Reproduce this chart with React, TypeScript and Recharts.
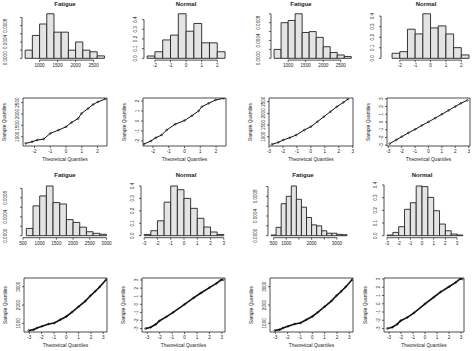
import React from 'react';
import { ComposedChart, XAxis, YAxis, ReferenceArea, ReferenceLine, Line, Scatter } from 'recharts';

const FONT = '"Liberation Sans", Arial, sans-serif';
const INK = '#222';
const BAR_FILL = '#e4e4e4';

// ---------- Row 1 histograms ----------
const h1Breaks = [600, 800, 1000, 1200, 1400, 1600, 1800, 2000, 2200, 2400, 2600, 2800];
const h1Density = [0.0002, 0.00056, 0.00084, 0.00109, 0.00064, 0.00064, 0.0002, 0.0004, 0.0002, 0.00016, 0.00006];
const h2Breaks = [-2.5, -2, -1.5, -1, -0.5, 0, 0.5, 1, 1.5, 2, 2.5];
const h2Density = [0.024, 0.068, 0.19, 0.24, 0.46, 0.28, 0.36, 0.16, 0.16, 0.068];
const h3Breaks = [600, 800, 1000, 1200, 1400, 1600, 1800, 2000, 2200, 2400, 2600, 2800];
const h3Density = [0.0002, 0.0008, 0.00085, 0.001, 0.00058, 0.0006, 0.00047, 0.00026, 0.00013, 0.000075, 0.00004];
const h4Breaks = [-3, -2.5, -2, -1.5, -1, -0.5, 0, 0.5, 1, 1.5, 2, 2.5];
const h4Density = [0, 0.048, 0.063, 0.276, 0.231, 0.422, 0.288, 0.307, 0.231, 0.101, 0.032];

// ---------- Row 3 histograms ----------
const h9Breaks = [600, 800, 1000, 1200, 1400, 1600, 1800, 2000, 2200, 2400, 2600, 2800, 3000];
const h9Density = [0.000154, 0.00063, 0.00084, 0.00105, 0.0007, 0.00067, 0.00034, 0.00028, 0.00018, 0.000084, 0.00005, 0.00003];
const h10Breaks = [-3, -2.5, -2, -1.5, -1, -0.5, 0, 0.5, 1, 1.5, 2, 2.5, 3];
const h10Density = [0.01, 0.04, 0.12, 0.27, 0.4, 0.37, 0.3, 0.22, 0.14, 0.07, 0.03, 0.01];
const h11Breaks = [400, 600, 800, 1000, 1200, 1400, 1600, 1800, 2000, 2200, 2400, 2600, 2800, 3000, 3200, 3400];
const h11Density = [0.000014, 0.00017, 0.00065, 0.0008, 0.00101, 0.00074, 0.00058, 0.00037, 0.00022, 0.0002, 0.0001, 0.00005, 0.00005, 0.000027, 0.00002];
const h12Breaks = [-3, -2.5, -2, -1.5, -1, -0.5, 0, 0.5, 1, 1.5, 2, 2.5, 3, 3.5];
const h12Density = [0.0053, 0.026, 0.071, 0.208, 0.26, 0.392, 0.387, 0.302, 0.197, 0.092, 0.039, 0.013, 0.0053];

// ---------- Tick values / labels ----------
const fatigueTicksA = [1000, 1500, 2000, 2500];
const fatigueLabelsA = ['1000', '1500', '2000', '2500'];
const fatigueTicksB = [500, 1000, 1500, 2000, 2500, 3000];
const fatigueLabelsB = ['500', '1000', '1500', '2000', '2500', '3000'];
const fatigueLabelsC = ['500', '1000', '', '2000', '', '3000'];
const normTicks5 = [-2, -1, 0, 1, 2];
const normLabels5 = ['-2', '-1', '0', '1', '2'];
const normTicks7 = [-3, -2, -1, 0, 1, 2, 3];
const normLabels7 = ['-3', '-2', '-1', '0', '1', '2', '3'];
const densTicksF = [0, 0.0002, 0.0004, 0.0006, 0.0008, 0.001];
const densLabelsF = ['0.0000', '', '0.0004', '', '0.0008', ''];
const densTicksN = [0, 0.1, 0.2, 0.3, 0.4];
const densLabelsN = ['0.0', '0.1', '0.2', '0.3', '0.4'];
const sampTicksF = [1000, 1500, 2000, 2500];
const sampLabelsF = ['1000', '1500', '2000', '2500'];
const sampTicksF2 = [1000, 2000, 3000];
const sampLabelsF2 = ['1000', '2000', '3000'];

// ---------- QQ plots (theoretical, sample) ----------
const q5Theo = [-2.56, -2.15, -1.83, -1.42, -1.0, -0.48, 0, 0.35, 0.77, 0.98, 1.4, 1.71, 2.02, 2.5];
const q5Samp = [709, 782, 855, 899, 1146, 1291, 1437, 1626, 1800, 2019, 2238, 2412, 2529, 2660];
const q6Theo = [-2.57, -2.13, -1.81, -1.45, -1.13, -0.6, 0, 0.47, 0.89, 1.1, 1.53, 1.96, 2.49];
const q6Samp = [-2.3, -2.0, -1.67, -1.4, -0.9, -0.33, 0.05, 0.53, 1.0, 1.43, 1.77, 2.1, 2.27];
const q7Theo = [-2.79, -2.33, -1.98, -1.51, -1.05, -0.47, 0, 0.47, 0.93, 1.4, 1.86, 2.33, 2.67];
const q7Samp = [671, 757, 857, 957, 1071, 1286, 1429, 1643, 1857, 2071, 2286, 2471, 2614];
const q8Theo = [-2.9, -2.4, -2, -1.5, -1, -0.5, 0, 0.5, 1, 1.5, 2, 2.4, 2.9];
const q8Samp = [-2.8, -2.3, -1.9, -1.4, -0.95, -0.45, 0.02, 0.5, 1.0, 1.5, 2.0, 2.4, 2.8];
const q13Theo = [-3.05, -2.65, -2.38, -1.97, -1.43, -0.97, -0.49, 0, 0.46, 1.0, 1.54, 1.95, 2.35, 2.7, 3.24];
const q13Samp = [604, 657, 747, 836, 962, 1016, 1195, 1374, 1606, 1910, 2215, 2501, 2752, 2985, 3396];
const q14Theo = [-3.14, -2.72, -2.31, -2.03, -1.47, -0.92, 0, 0.75, 1.31, 2.0, 2.56, 2.92, 3.11];
const q14Samp = [-3.0, -2.84, -2.47, -2.06, -1.55, -1.0, 0, 0.82, 1.4, 2.06, 2.59, 3.0, 3.05];
const q15Theo = [-3.05, -2.65, -2.38, -1.97, -1.43, -0.97, -0.49, 0, 0.46, 1.0, 1.54, 1.95, 2.35, 2.7, 3.24];
const q15Samp = [604, 657, 747, 836, 962, 1016, 1195, 1374, 1606, 1910, 2215, 2501, 2752, 2985, 3396];
const q16Theo = [-3.14, -2.72, -2.31, -2.03, -1.47, -0.92, 0, 0.75, 1.31, 2.0, 2.56, 2.92, 3.11];
const q16Samp = [-3.0, -2.84, -2.47, -2.06, -1.65, -1.11, 0, 0.82, 1.44, 2.06, 2.59, 3.0, 3.0];

type Box = { x0: number; x1: number; y0: number; y1: number };

const makeXTick = (ticks: number[], labels: string[]) => (props: any) => {
  const { x, y, payload } = props;
  const i = ticks.findIndex((t) => Math.abs(t - payload.value) < 1e-9);
  const lab = i >= 0 ? labels[i] : '';
  return (
    <text x={x} y={y + 4.2} textAnchor="middle" fontSize={4.6} fill={INK} fontFamily={FONT}>
      {lab}
    </text>
  );
};

const makeYTick = (ticks: number[], labels: string[], off: number) => (props: any) => {
  const { x, y, payload } = props;
  const i = ticks.findIndex((t) => Math.abs(t - payload.value) < 1e-12);
  const lab = i >= 0 ? labels[i] : '';
  const tx = x - off;
  return (
    <text x={tx} y={y} transform={`rotate(-90 ${tx} ${y})`} textAnchor="middle" fontSize={4.6} fill={INK} fontFamily={FONT}>
      {lab}
    </text>
  );
};

const ML = 30;
const MR = 6;
const MT = 8;
const MB = 14;

function Hist(p: {
  box: Box;
  breaks: number[];
  density: number[];
  xDomain: [number, number];
  xTicks: number[];
  xLabels: string[];
  yTicks: number[];
  yLabels: string[];
  yOff: number;
}) {
  const { box } = p;
  const w = box.x1 - box.x0 + ML + MR;
  const h = box.y1 - box.y0 + MT + MB;
  const maxD = Math.max(...p.density);
  const yDomain: [number, number] = [-0.04 * maxD, 1.04 * maxD];
  const yTicks = p.yTicks.filter((t) => t <= yDomain[1]);
  const data = p.density.map((d, i) => ({ x: (p.breaks[i] + p.breaks[i + 1]) / 2, d }));
  return (
    <div style={{ position: 'absolute', left: box.x0 - ML, top: box.y0 - MT }}>
      <ComposedChart width={w} height={h} data={data} margin={{ top: MT, right: MR, bottom: 0, left: 0 }}>
        <XAxis
          type="number"
          dataKey="x"
          domain={p.xDomain}
          ticks={p.xTicks}
          allowDataOverflow
          axisLine={false}
          tickLine={{ stroke: INK, strokeWidth: 0.7 }}
          tickSize={2}
          tickMargin={1}
          height={MB}
          interval={0}
          tick={makeXTick(p.xTicks, p.xLabels)}
        />
        <YAxis
          type="number"
          domain={yDomain}
          ticks={yTicks}
          allowDataOverflow
          axisLine={false}
          tickLine={{ stroke: INK, strokeWidth: 0.7 }}
          tickSize={2}
          tickMargin={1}
          width={ML}
          interval={0}
          tick={makeYTick(p.yTicks, p.yLabels, p.yOff)}
        />
        {p.density.map((d, i) => (
          <ReferenceArea
            key={i}
            x1={p.breaks[i]}
            x2={p.breaks[i + 1]}
            y1={0}
            y2={d}
            fill={BAR_FILL}
            fillOpacity={1}
            stroke={INK}
            strokeWidth={0.9}
            ifOverflow="visible"
          />
        ))}
        <ReferenceLine
          segment={[
            { x: p.xTicks[0], y: yDomain[0] },
            { x: p.xTicks[p.xTicks.length - 1], y: yDomain[0] },
          ]}
          stroke={INK}
          strokeWidth={0.8}
          ifOverflow="visible"
        />
        <ReferenceLine
          segment={[
            { x: p.xDomain[0], y: 0 },
            { x: p.xDomain[0], y: yTicks[yTicks.length - 1] },
          ]}
          stroke={INK}
          strokeWidth={0.8}
          ifOverflow="visible"
        />
        <Line dataKey="d" stroke="none" dot={false} isAnimationActive={false} legendType="none" />
      </ComposedChart>
    </div>
  );
}

function QQ(p: {
  box: Box;
  theo: number[];
  samp: number[];
  xDomain: [number, number];
  yDomain: [number, number];
  xTicks: number[];
  xLabels: string[];
  yTicks: number[];
  yLabels: string[];
  lineW: number;
}) {
  const { box } = p;
  const w = box.x1 - box.x0 + ML + MR;
  const h = box.y1 - box.y0 + MT + MB;
  const data = p.theo.map((t, i) => ({ x: t, y: p.samp[i] }));
  return (
    <div style={{ position: 'absolute', left: box.x0 - ML, top: box.y0 - MT }}>
      <ComposedChart width={w} height={h} data={data} margin={{ top: MT, right: MR, bottom: 0, left: 0 }}>
        <XAxis
          type="number"
          dataKey="x"
          domain={p.xDomain}
          ticks={p.xTicks}
          allowDataOverflow
          axisLine={false}
          tickLine={{ stroke: INK, strokeWidth: 0.7 }}
          tickSize={2}
          tickMargin={1}
          height={MB}
          interval={0}
          tick={makeXTick(p.xTicks, p.xLabels)}
        />
        <YAxis
          type="number"
          domain={p.yDomain}
          ticks={p.yTicks}
          allowDataOverflow
          axisLine={false}
          tickLine={{ stroke: INK, strokeWidth: 0.7 }}
          tickSize={2}
          tickMargin={1}
          width={ML}
          interval={0}
          tick={makeYTick(p.yTicks, p.yLabels, 1)}
        />
        <ReferenceArea
          x1={p.xDomain[0]}
          x2={p.xDomain[1]}
          y1={p.yDomain[0]}
          y2={p.yDomain[1]}
          fill="none"
          stroke={INK}
          strokeWidth={0.8}
          ifOverflow="visible"
        />
        <Line dataKey="y" stroke="#111" strokeWidth={p.lineW} dot={false} isAnimationActive={false} legendType="none" />
        <Scatter
          dataKey="y"
          isAnimationActive={false}
          shape={(s: any) => <circle cx={s.cx} cy={s.cy} r={0.9} fill="none" stroke="#111" strokeWidth={0.6} />}
        />
      </ComposedChart>
    </div>
  );
}

const Title = ({ x, y, text }: { x: number; y: number; text: string }) => (
  <div
    style={{
      position: 'absolute',
      left: x - 40,
      top: y - 4,
      width: 80,
      textAlign: 'center',
      fontFamily: FONT,
      fontWeight: 'bold',
      fontSize: 6,
      lineHeight: '8px',
      color: INK,
    }}
  >
    {text}
  </div>
);

const XLab = ({ x, y, text }: { x: number; y: number; text: string }) => (
  <div
    style={{
      position: 'absolute',
      left: x - 40,
      top: y - 3,
      width: 80,
      textAlign: 'center',
      fontFamily: FONT,
      fontSize: 4.8,
      lineHeight: '6px',
      color: INK,
    }}
  >
    {text}
  </div>
);

const YLab = ({ x, y, text }: { x: number; y: number; text: string }) => (
  <div
    style={{
      position: 'absolute',
      left: x - 40,
      top: y - 3,
      width: 80,
      textAlign: 'center',
      fontFamily: FONT,
      fontSize: 4.8,
      lineHeight: '6px',
      color: INK,
      transform: 'rotate(-90deg)',
    }}
  >
    {text}
  </div>
);

const r1 = { y0: 12, y1: 60.1 };
const r3 = { y0: 184, y1: 237.7 };
const r2 = { y0: 98, y1: 146 };
const r4 = { y0: 278, y1: 332 };

export default function App() {
  const qqBoxes: Box[] = [
    { x0: 23, x1: 107, ...r2 },
    { x0: 143, x1: 226, ...r2 },
    { x0: 269, x1: 353, ...r2 },
    { x0: 387, x1: 470, ...r2 },
    { x0: 24, x1: 107, ...r4 },
    { x0: 142, x1: 225, ...r4 },
    { x0: 270, x1: 353, ...r4 },
    { x0: 384, x1: 464, ...r4 },
  ];
  return (
    <div style={{ position: 'fixed', left: 0, top: 0, width: 474, height: 351, background: '#fff', overflow: 'hidden' }}>
      {/* Row 1 */}
      <Hist box={{ x0: 22.4, x1: 108, ...r1 }} breaks={h1Breaks} density={h1Density} xDomain={[512, 2888]} xTicks={fatigueTicksA} xLabels={fatigueLabelsA} yTicks={densTicksF} yLabels={densLabelsF} yOff={12} />
      <Hist box={{ x0: 143.8, x1: 228, ...r1 }} breaks={h2Breaks} density={h2Density} xDomain={[-2.7, 2.7]} xTicks={normTicks5} xLabels={normLabels5} yTicks={densTicksN} yLabels={densLabelsN} yOff={4} />
      <Hist box={{ x0: 270.5, x1: 353.9, ...r1 }} breaks={h3Breaks} density={h3Density} xDomain={[512, 2888]} xTicks={fatigueTicksA} xLabels={fatigueLabelsA} yTicks={densTicksF} yLabels={densLabelsF} yOff={8} />
      <Hist box={{ x0: 381, x1: 472.4, ...r1 }} breaks={h4Breaks} density={h4Density} xDomain={[-3.22, 2.72]} xTicks={normTicks5} xLabels={normLabels5} yTicks={densTicksN} yLabels={densLabelsN} yOff={4} />
      <Title x={65} y={4} text="Fatigue" />
      <Title x={186} y={4} text="Normal" />
      <Title x={301} y={4} text="Fatigue" />
      <Title x={426} y={4} text="Normal" />

      {/* Row 2 */}
      <QQ box={qqBoxes[0]} theo={q5Theo} samp={q5Samp} xDomain={[-2.73, 2.6]} yDomain={[595, 2700]} xTicks={normTicks5} xLabels={normLabels5} yTicks={sampTicksF} yLabels={sampLabelsF} lineW={1} />
      <QQ box={qqBoxes[1]} theo={q6Theo} samp={q6Samp} xDomain={[-2.63, 2.63]} yDomain={[-2.5, 2.3]} xTicks={normTicks5} xLabels={normLabels5} yTicks={normTicks5} yLabels={normLabels5} lineW={1} />
      <QQ box={qqBoxes[2]} theo={q7Theo} samp={q7Samp} xDomain={[-3.0, 3.02]} yDomain={[601, 2659]} xTicks={normTicks7} xLabels={normLabels7} yTicks={sampTicksF} yLabels={sampLabelsF} lineW={1} />
      <QQ box={qqBoxes[3]} theo={q8Theo} samp={q8Samp} xDomain={[-3.1, 3.1]} yDomain={[-3.1, 3.1]} xTicks={normTicks7} xLabels={normLabels7} yTicks={normTicks7} yLabels={normLabels7} lineW={1} />

      {/* Row 3 */}
      <Hist box={{ x0: 22.3, x1: 110.1, ...r3 }} breaks={h9Breaks} density={h9Density} xDomain={[470, 3100]} xTicks={fatigueTicksB} xLabels={fatigueLabelsB} yTicks={densTicksF} yLabels={densLabelsF} yOff={12} />
      <Hist box={{ x0: 141, x1: 227, ...r3 }} breaks={h10Breaks} density={h10Density} xDomain={[-3.24, 3.24]} xTicks={normTicks7} xLabels={normLabels7} yTicks={densTicksN} yLabels={densLabelsN} yOff={4} />
      <Hist box={{ x0: 267.5, x1: 349.6, ...r3 }} breaks={h11Breaks} density={h11Density} xDomain={[280, 3520]} xTicks={fatigueTicksB} xLabels={fatigueLabelsC} yTicks={densTicksF} yLabels={densLabelsF} yOff={8} />
      <Hist box={{ x0: 384.3, x1: 466.2, ...r3 }} breaks={h12Breaks} density={h12Density} xDomain={[-3.26, 3.76]} xTicks={normTicks7} xLabels={normLabels7} yTicks={densTicksN} yLabels={densLabelsN} yOff={4} />
      <Title x={65} y={175} text="Fatigue" />
      <Title x={186} y={175} text="Normal" />
      <Title x={303} y={175} text="Fatigue" />
      <Title x={422} y={175} text="Normal" />

      {/* Row 4 */}
      <QQ box={qqBoxes[4]} theo={q13Theo} samp={q13Samp} xDomain={[-3.43, 3.3]} yDomain={[527, 3473]} xTicks={normTicks7} xLabels={normLabels7} yTicks={sampTicksF2} yLabels={sampLabelsF2} lineW={1.6} />
      <QQ box={qqBoxes[5]} theo={q14Theo} samp={q14Samp} xDomain={[-3.42, 3.25]} yDomain={[-3.42, 3.25]} xTicks={normTicks7} xLabels={normLabels7} yTicks={normTicks7} yLabels={normLabels7} lineW={1.6} />
      <QQ box={qqBoxes[6]} theo={q15Theo} samp={q15Samp} xDomain={[-3.43, 3.3]} yDomain={[527, 3473]} xTicks={normTicks7} xLabels={normLabels7} yTicks={sampTicksF2} yLabels={sampLabelsF2} lineW={1.6} />
      <QQ box={qqBoxes[7]} theo={q16Theo} samp={q16Samp} xDomain={[-3.42, 3.25]} yDomain={[-3.42, 3.12]} xTicks={normTicks7} xLabels={normLabels7} yTicks={normTicks7} yLabels={normLabels7} lineW={1.6} />

      {qqBoxes.map((b, i) => (
        <React.Fragment key={i}>
          <XLab x={(b.x0 + b.x1) / 2} y={b.y1 + 14} text="Theoretical Quantiles" />
          <YLab x={b.x0 - 18} y={(b.y0 + b.y1) / 2} text="Sample Quantiles" />
        </React.Fragment>
      ))}
    </div>
  );
}
